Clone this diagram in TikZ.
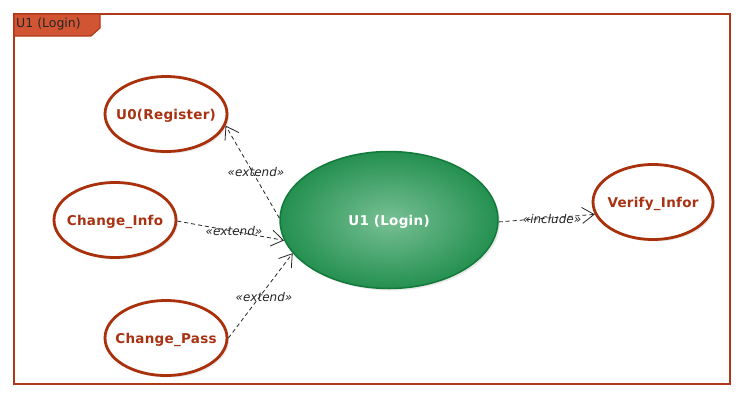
\documentclass[tikz,border=0pt]{standalone}
\usepackage{fontspec}
\setmainfont{DejaVu Sans}
\newfontfamily\ucfont[LetterSpace=2]{DejaVu Sans}
\usetikzlibrary{arrows.meta,shadows,shapes.geometric}
\definecolor{ucred}{HTML}{A8300A}
\definecolor{uctext}{HTML}{A83212}
\definecolor{framecol}{HTML}{B0381A}
\definecolor{tabfill}{HTML}{D25533}
\definecolor{gin}{HTML}{78C094}
\definecolor{gout}{HTML}{249050}
\definecolor{gborder}{HTML}{117A3A}
\newcommand{\uctxt}[1]{\raisebox{-5.5pt}[0pt][0pt]{\makebox[0pt]{#1}}}
\tikzset{
  usecase/.style={ellipse, draw=ucred, line width=2.8pt, fill=white,
    minimum width=122pt, minimum height=75pt, inner sep=0pt, text=uctext,
    font=\ucfont\bfseries\fontsize{13.5}{15}\selectfont,
    drop shadow={opacity=0.18, shadow xshift=2pt, shadow yshift=-2pt}},
  mainuc/.style={ellipse, draw=gborder, line width=1.5pt, inner color=gin, outer color=gout,
    minimum width=218pt, minimum height=137pt, inner sep=0pt, text=white,
    font=\ucfont\bfseries\fontsize{13.5}{15}\selectfont,
    drop shadow={opacity=0.18, shadow xshift=2pt, shadow yshift=-2pt}},
  rel/.style={draw=black!85, line width=0.8pt, dash pattern=on 4pt off 3pt,
    -{Straight Barb[length=12pt,width=16pt,line width=0.8pt]}},
  lbl/.style={font=\itshape\fontsize{12}{14}\selectfont, text=black!85, inner sep=0pt},
  titletext/.style={font=\fontsize{12.5}{14}\selectfont, anchor=west, inner sep=0pt, text=black!85}
}
\begin{document}
\begin{tikzpicture}[x=1pt,y=-1pt]
\useasboundingbox (0,0) rectangle (744,400);
\fill[white] (0,0) rectangle (744,400);
\draw[framecol, line width=1.5pt] (14,14) rectangle (730,384);
\filldraw[fill=tabfill, draw=framecol, line width=1.2pt] (14,14) -- (100,14) -- (100,28) -- (91,36) -- (14,36) -- cycle;
\node[titletext] (title) at (16,24) {U1 (Login)};

\node[usecase] (u0) at (166,114) {\uctxt{U0(Register)}};
\node[usecase] (ci) at (115,220) {\uctxt{Change\_Info}};
\node[usecase] (cp) at (166,338) {\uctxt{Change\_Pass}};
\node[usecase, minimum width=120pt] (vi) at (653,202) {\uctxt{Verify\_Infor}};
\node[mainuc] (login) at (389,220) {\uctxt{U1 (Login)}};

\draw[rel] (login.179) -- (u0.349);
\draw[rel] (ci.359) -- (login.191);
\draw[rel] (cp.east) -- (login.199);
\draw[rel] (login.359) -- (vi.192);

\node[lbl] (l1) at (256,172) {«extend»};
\node[lbl] (l2) at (234,231) {«extend»};
\node[lbl] (l3) at (264,297) {«extend»};
\node[lbl] (l4) at (552,219) {«include»};
\end{tikzpicture}
\end{document}
